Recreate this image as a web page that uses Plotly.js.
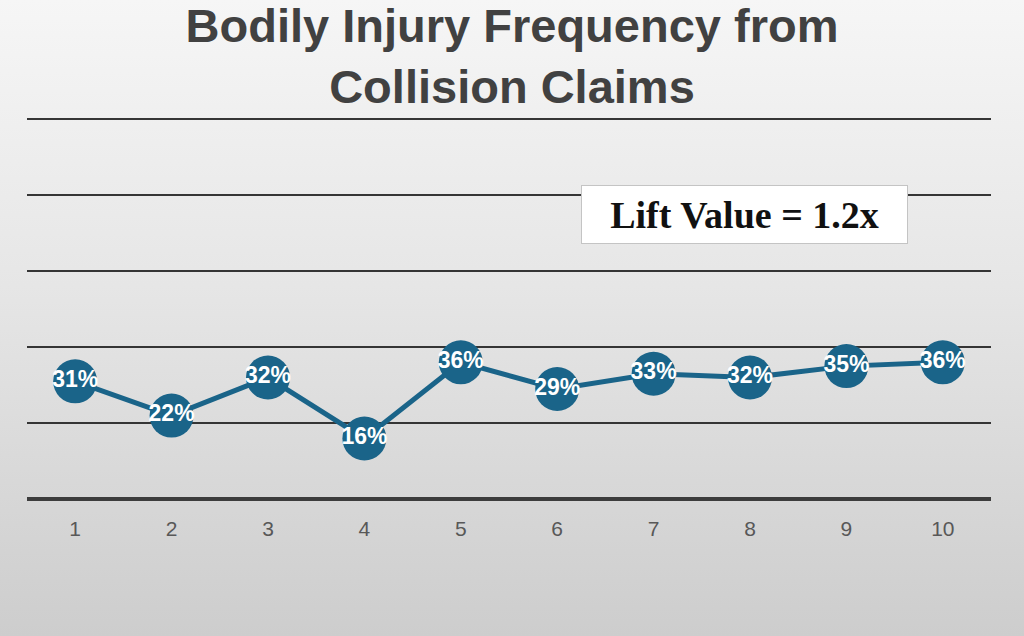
<!DOCTYPE html>
<html>
<head>
<meta charset="utf-8">
<script src="https://cdn.plot.ly/plotly-3.0.1.min.js"></script>
<style>
  html, body { margin: 0; padding: 0; width: 1024px; height: 636px; overflow: hidden; }
  body { background: linear-gradient(to bottom, #f6f6f6 0%, #e6e6e6 45%, #cdcdcd 100%); }
  #chart { width: 1024px; height: 636px; }
</style>
</head>
<body>
<div id="chart"></div>
<script>
const deciles = [1, 2, 3, 4, 5, 6, 7, 8, 9, 10];
const frequencyPct = [31, 22, 32, 16, 36, 29, 33, 32, 35, 36];
const tickLabels = ["1", "2", "3", "4", "5", "6", "7", "8", "9", "10"];
const chartTitle = "Bodily Injury Frequency from<br>Collision Claims";
const liftText = "Lift Value = 1.2x";

const lineColor = "#1a6489";

const trace = {
  x: deciles,
  y: frequencyPct,
  type: "scatter",
  mode: "lines+markers+text",
  text: frequencyPct.map(v => v + "%"),
  textposition: "middle center",
  textfont: { family: "Liberation Sans, Arial, sans-serif", size: 23, color: "#ffffff", weight: "bold" },
  line: { color: lineColor, width: 5 },
  marker: { color: lineColor, size: 44 },
  hoverinfo: "skip",
  cliponaxis: false
};

const layout = {
  width: 1024,
  height: 636,
  paper_bgcolor: "rgba(0,0,0,0)",
  plot_bgcolor: "rgba(0,0,0,0)",
  margin: { l: 27, r: 33, t: 111, b: 129 },
  showlegend: false,
  title: {
    text: chartTitle,
    font: { family: "Liberation Sans, Arial, sans-serif", size: 47, color: "#414141", weight: "bold" },
    x: 0.5,
    xref: "container",
    xanchor: "center",
    y: 0.934,
    yref: "container",
    yanchor: "top"
  },
  xaxis: {
    range: [0.5, 10.5],
    tickvals: deciles,
    ticktext: tickLabels,
    showgrid: false,
    zeroline: false,
    showline: false,
    ticks: "",
    ticklabelstandoff: 7,
    tickfont: { family: "Liberation Sans, Arial, sans-serif", size: 21, color: "#585858" },
    fixedrange: true
  },
  yaxis: {
    range: [-2, 102],
    dtick: 20,
    tick0: 0,
    showticklabels: false,
    showgrid: true,
    gridcolor: "#353535",
    gridwidth: 2,
    zeroline: true,
    zerolinecolor: "#3c3c3c",
    zerolinewidth: 4,
    showline: false,
    ticks: "",
    fixedrange: true
  },
  annotations: [{
    text: liftText,
    xref: "paper",
    yref: "paper",
    x: 0.7443,
    y: 0.739,
    xanchor: "center",
    yanchor: "middle",
    showarrow: false,
    width: 325,
    height: 57,
    align: "center",
    valign: "middle",
    bgcolor: "#ffffff",
    bordercolor: "#c4c4c4",
    borderwidth: 1,
    borderpad: 0,
    font: { family: "Liberation Serif, Times New Roman, serif", size: 38, color: "#111111", weight: "bold" }
  }]
};

Plotly.newPlot("chart", [trace], layout, { displayModeBar: false, staticPlot: true });
</script>
</body>
</html>
